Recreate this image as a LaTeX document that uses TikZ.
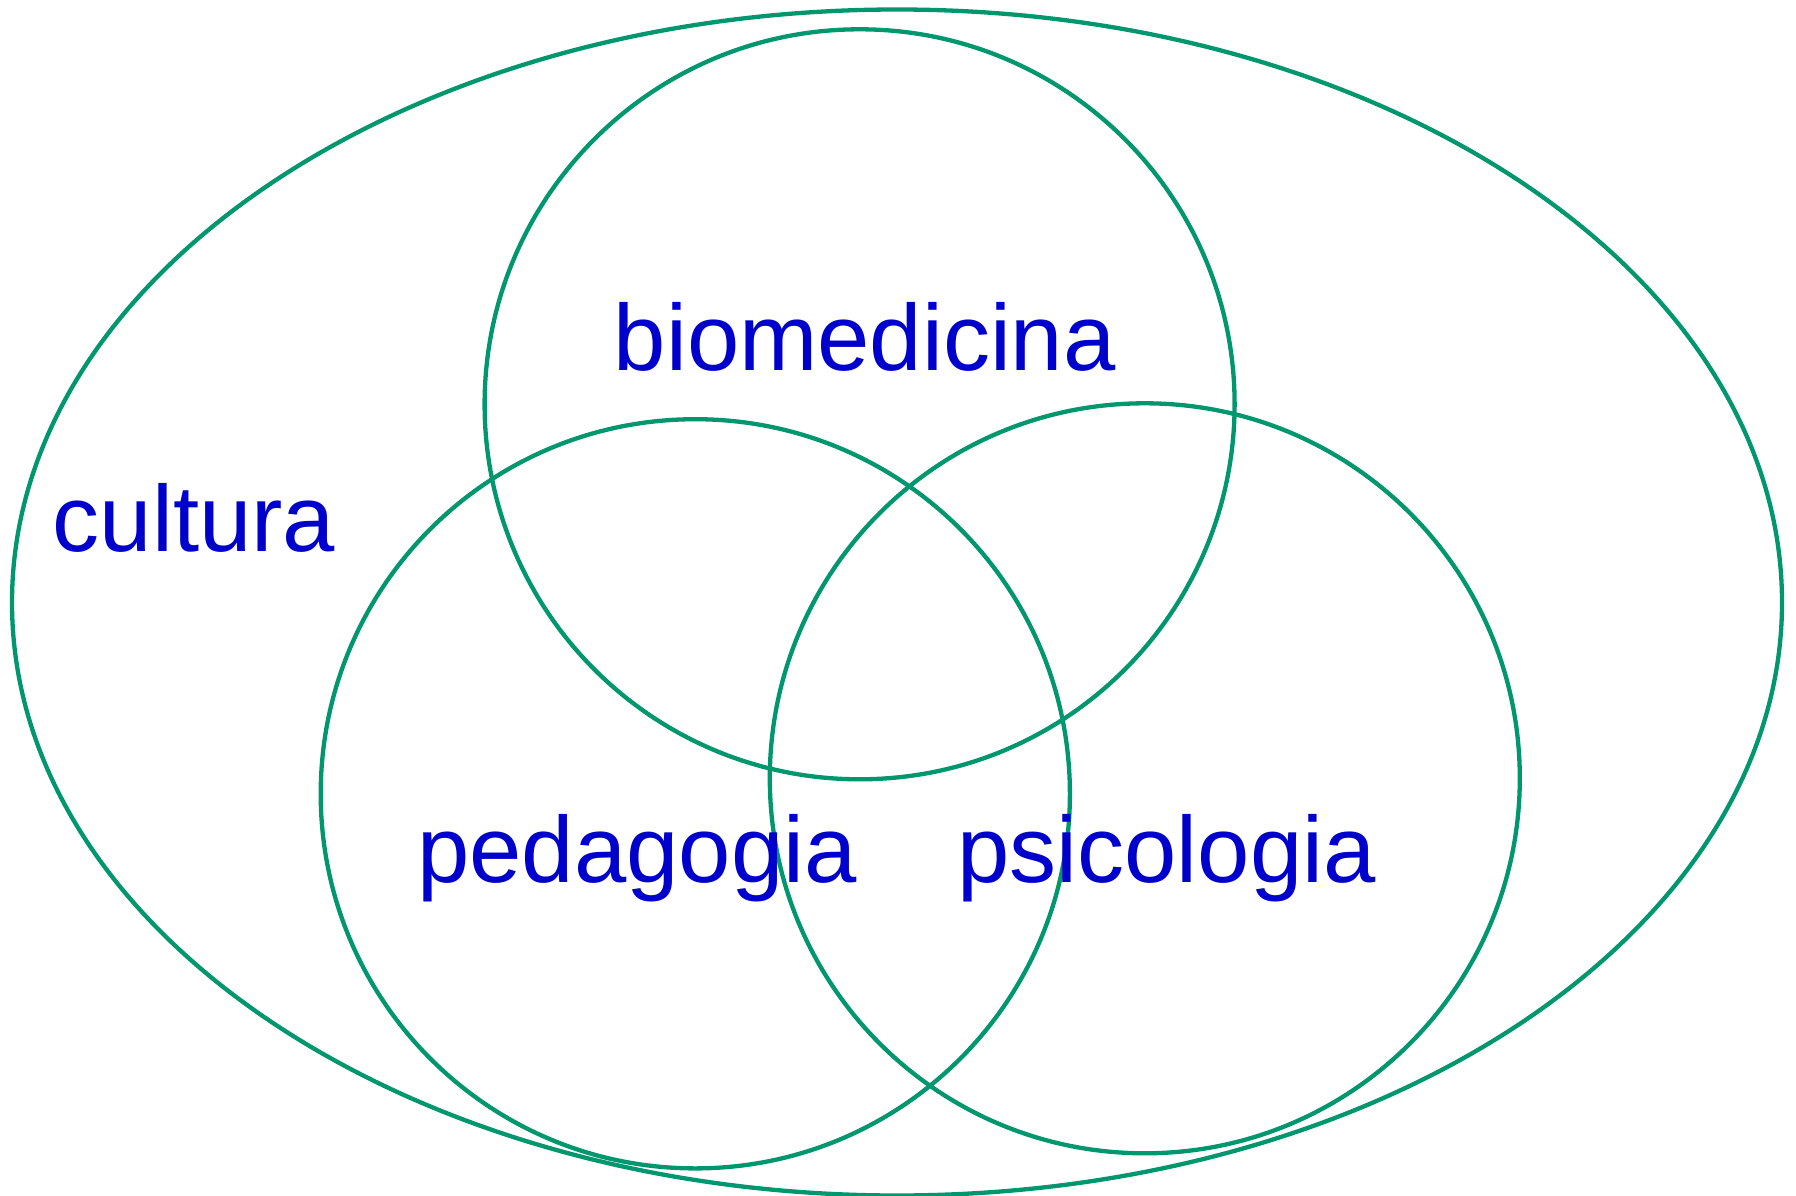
\documentclass[tikz,border=0pt]{standalone}
\usepackage{fontspec}
\setmainfont{Liberation Sans}
\definecolor{ringgreen}{RGB}{0,150,110}
\definecolor{labelblue}{RGB}{0,0,204}
\begin{document}
\begin{tikzpicture}[x=1pt,y=-1pt,
  ring/.style={draw=ringgreen,line width=4.3pt},
  lbl/.style={text=labelblue,anchor=base,inner sep=0pt,font=\fontsize{94}{110}\selectfont}]
\useasboundingbox (0,0) rectangle (1796,1196);
\clip (0,0) rectangle (1796,1196);
% outer set: cultura
\draw[ring] (897,602.5) ellipse [x radius=885, y radius=593];
% three overlapping disciplines
\draw[ring] (859.6,404.3) circle [radius=375];
\draw[ring] (695.3,793.8) circle [radius=374.6];
\draw[ring] (1144.8,778.3) circle [radius=375];
% labels
\node[lbl] (cult) at (194,551) {cultura};
\node[lbl] (bio) at (864.8,370) {biomedicina};
\node[lbl] (ped) at (637,882) {pedagogia};
\node[lbl] (psi) at (1166.6,882) {psicologia};
\end{tikzpicture}
\end{document}
